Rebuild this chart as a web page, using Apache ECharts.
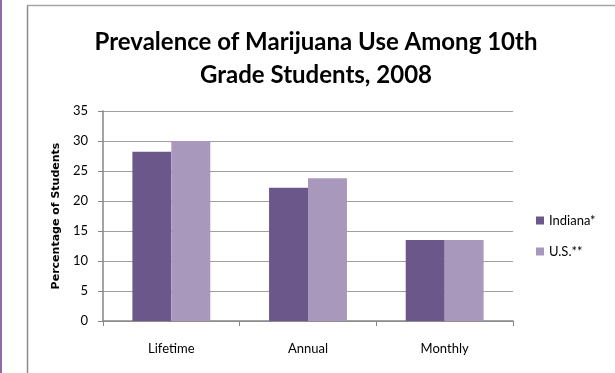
<!DOCTYPE html>
<html><head><meta charset="utf-8">
<script src="https://cdn.jsdelivr.net/npm/echarts@6/dist/echarts.min.js"></script>
<style>html,body{margin:0;padding:0;background:#fff}#c{width:615px;height:373px}</style>
</head><body><div id="c"></div>
<script>
const categories = ['Lifetime', 'Annual', 'Monthly'];
const indiana = [28.2, 22.2, 13.5];
const us = [30.0, 23.8, 13.5];
const seriesNames = ['Indiana*', 'U.S.**'];
const yTicks = {min: 0, max: 35, interval: 5};

const chart = echarts.init(document.getElementById('c'), null, {renderer: 'canvas'});
const FONT = 'Lato';
chart.setOption({
  animation: false,
  backgroundColor: '#fff',
  title: {
    text: 'Prevalence of Marijuana Use Among 10th\nGrade Students, 2008',
    left: 311, top: 21, textAlign: 'center',
    textStyle: {fontFamily: FONT, fontWeight: 'bold', fontSize: 24, lineHeight: 33, color: '#000'}
  },
  graphic: [
    {type: 'rect', shape: {x: 0, y: 0, width: 2, height: 373}, style: {fill: '#8b6ca9'}},
    {type: 'line', shape: {x1: 27.5, y1: 5.5, x2: 27.5, y2: 373}, style: {stroke: '#8c8c8c', lineWidth: 1.5}},
    {type: 'line', shape: {x1: 27, y1: 5.5, x2: 615, y2: 5.5}, style: {stroke: '#a6a6a6', lineWidth: 1.5}}
  ],
  legend: {
    orient: 'vertical', left: 531, top: 209,
    itemWidth: 8, itemHeight: 8, itemGap: 18,
    icon: 'rect',
    textStyle: {fontFamily: FONT, fontSize: 13, color: '#000'},
    data: seriesNames
  },
  grid: {left: 103, top: 111, right: 102, bottom: 52, containLabel: false},
  xAxis: {
    type: 'category', data: categories,
    axisLine: {lineStyle: {color: '#868686', width: 1.5}},
    axisTick: {show: true, length: 5, lineStyle: {color: '#868686'}},
    axisLabel: {fontFamily: FONT, fontSize: 13, color: '#000', margin: 21}
  },
  yAxis: {
    type: 'value', min: yTicks.min, max: yTicks.max, interval: yTicks.interval,
    name: 'Percentage of Students', nameLocation: 'middle', nameRotate: 90, nameGap: 41,
    nameTextStyle: {fontFamily: 'DejaVu Sans', fontWeight: 'bold', fontSize: 11, color: '#000'},
    axisLine: {show: true, lineStyle: {color: '#868686', width: 1.5}},
    axisTick: {show: true, length: 5, lineStyle: {color: '#868686'}},
    axisLabel: {fontFamily: FONT, fontSize: 13, color: '#000', margin: 15},
    splitLine: {lineStyle: {color: '#a0a0a0', width: 1.2}}
  },
  series: [
    {name: seriesNames[0], type: 'bar', data: indiana, barGap: '0%', barCategoryGap: '43%', itemStyle: {color: '#6c578a'}},
    {name: seriesNames[1], type: 'bar', data: us, barGap: '0%', barCategoryGap: '43%', itemStyle: {color: '#a898bc'}}
  ]
});
</script></body></html>
